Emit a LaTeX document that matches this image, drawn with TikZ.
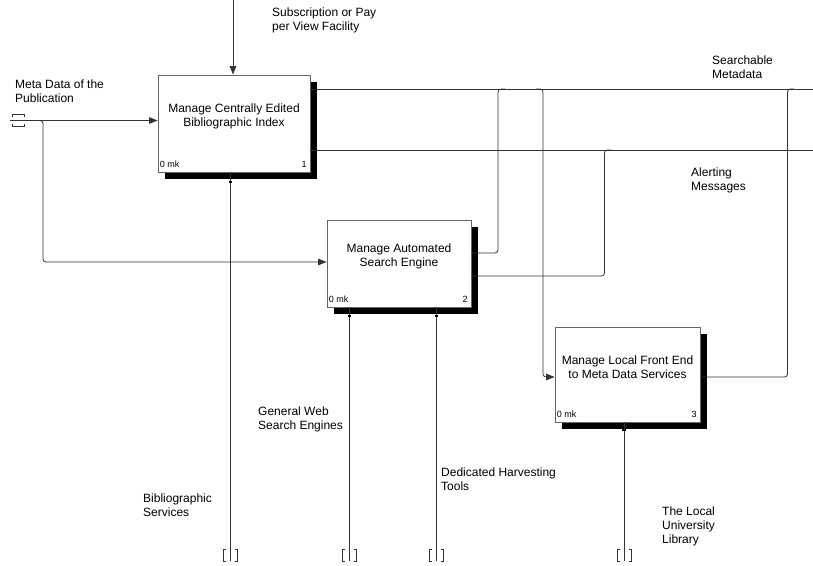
\documentclass[tikz,border=0pt]{standalone}
\usepackage{fontspec}
\setmainfont{Liberation Sans}
\usetikzlibrary{arrows.meta,shadows}

\begin{document}
\begin{tikzpicture}[x=1pt,y=-1pt,
  flow/.style={draw=black!80,line width=0.8pt,rounded corners=3pt},
  arr/.style={flow,-{Triangle[length=8.5pt,width=6.5pt]}},
  act/.style={draw=black!60,line width=0.8pt,fill=white,inner sep=0pt,
    drop shadow={shadow xshift=7pt,shadow yshift=-7pt,fill=black,opacity=1}},
  acttext/.style={align=center,font=\fontsize{12}{14}\selectfont},
  idx/.style={inner sep=0pt,font=\fontsize{9}{10}\selectfont},
  lbl/.style={anchor=north west,inner sep=0pt,align=left,font=\fontsize{12}{14}\selectfont},
  brk/.style={draw=black!80,line width=0.7pt},
  notch/.style={fill=black}
]
\useasboundingbox (0,0) rectangle (813,565);

% activity boxes
\node[act,minimum width=152pt,minimum height=97pt] (b1) at (234,123.5) {};
\node[act,minimum width=144pt,minimum height=87pt] (b2) at (399,263.5) {};
\node[act,minimum width=145pt,minimum height=95pt] (b3) at (627.5,374.5) {};

\node[acttext] (t1) at ([yshift=7.5pt]b1.center) {Manage Centrally Edited\\Bibliographic Index};
\node[acttext] (t2) at ([yshift=7.5pt]b2.center) {Manage Automated\\Search Engine};
\node[acttext] (t3) at ([yshift=7.5pt]b3.center) {Manage Local Front End\\to Meta Data Services};

\foreach \b/\n in {b1/1,b2/2,b3/3}{
  \node[idx,anchor=south west] (\b mk) at ([shift={(2,-4.5)}]\b.south west) {0 mk};
  \node[idx,anchor=south east] (\b no) at ([shift={(-3.5,-4.5)}]\b.south east) {\n};
}

% free ends of the connectors
\coordinate (tin) at (10,120.5);
\coordinate (c1) at (233,0);
\coordinate (o1) at (813,89);
\coordinate (o2) at (813,150);
\coordinate (m1) at (230.5,561);
\coordinate (m2) at (349.5,561);
\coordinate (m3) at (436.5,561);
\coordinate (m4) at (624,561);

% control
\draw[arr] (c1) -- (c1 |- b1.north);

% input and its branch to box 2
\draw[arr] (tin) -- (b1.west |- tin);
\draw[arr] (38,120.5) -- (43,120.5) -- (43,262) -- (b2.west |- 0,262);

% outputs of box 1
\draw[flow] (b1.east |- o1) -- (o1);
\draw[flow] (b1.east |- o2) -- (o2);

% outputs of box 2 merging into the output lines
\draw[flow] (b2.east |- 0,253) -- (498,253) -- (498,89) -- (505,89);
\draw[flow] (b2.east |- 0,276) -- (604.5,276) -- (604.5,150) -- (611,150);

% searchable metadata fed into box 3
\draw[arr] (536,89) -- (543,89) -- (543,377) -- (b3.west |- 0,377);

% output of box 3 merging back
\draw[flow] (b3.east |- 0,377) -- (787.5,377) -- (787.5,89) -- (794,89);

% mechanisms
\draw[flow] (m1) -- (m1 |- b1.south);
\draw[flow] (m2) -- (m2 |- b2.south);
\draw[flow] (m3) -- (m3 |- b2.south);
\draw[flow] (m4) -- (m4 |- b3.south);
\foreach \m/\yy in {m1/180.5,m2/314.5,m3/314.5,m4/428.5}{
  \fill[notch] ([xshift=-1.8pt]\m |- 0,\yy) rectangle ([xshift=1.8pt]\m |- 0,\yy+2.5);
}

% tunnel brackets at the lower ends of the mechanisms
\foreach \m in {m1,m2,m3,m4}{
  \draw[brk] ([shift={(-4.5,-12)}]\m) -- ([shift={(-7,-12)}]\m) -- ([shift={(-7,0)}]\m) -- ([shift={(-4.5,0)}]\m);
  \draw[brk] ([shift={(4.5,-12)}]\m) -- ([shift={(7,-12)}]\m) -- ([shift={(7,0)}]\m) -- ([shift={(4.5,0)}]\m);
}

% tunnel brackets at the input
\draw[brk] (12,117) -- (12,114) -- (24,114) -- (24,117);
\draw[brk] (12,123.5) -- (12,126.5) -- (24,126.5) -- (24,123.5);

% arrow labels
\node[lbl] (l1) at (272,8) {Subscription or Pay\\per View Facility};
\node[lbl] (l2) at (15,80) {Meta Data of the\\Publication};
\node[lbl] (l3) at (712,56) {Searchable\\Metadata};
\node[lbl] (l4) at (691,168) {Alerting\\Messages};
\node[lbl] (l5) at (258,407) {General Web\\Search Engines};
\node[lbl] (l6) at (441,468) {Dedicated Harvesting\\Tools};
\node[lbl] (l7) at (143,494) {Bibliographic\\Services};
\node[lbl] (l8) at (662,507) {The Local\\University\\Library};
\end{tikzpicture}
\end{document}
